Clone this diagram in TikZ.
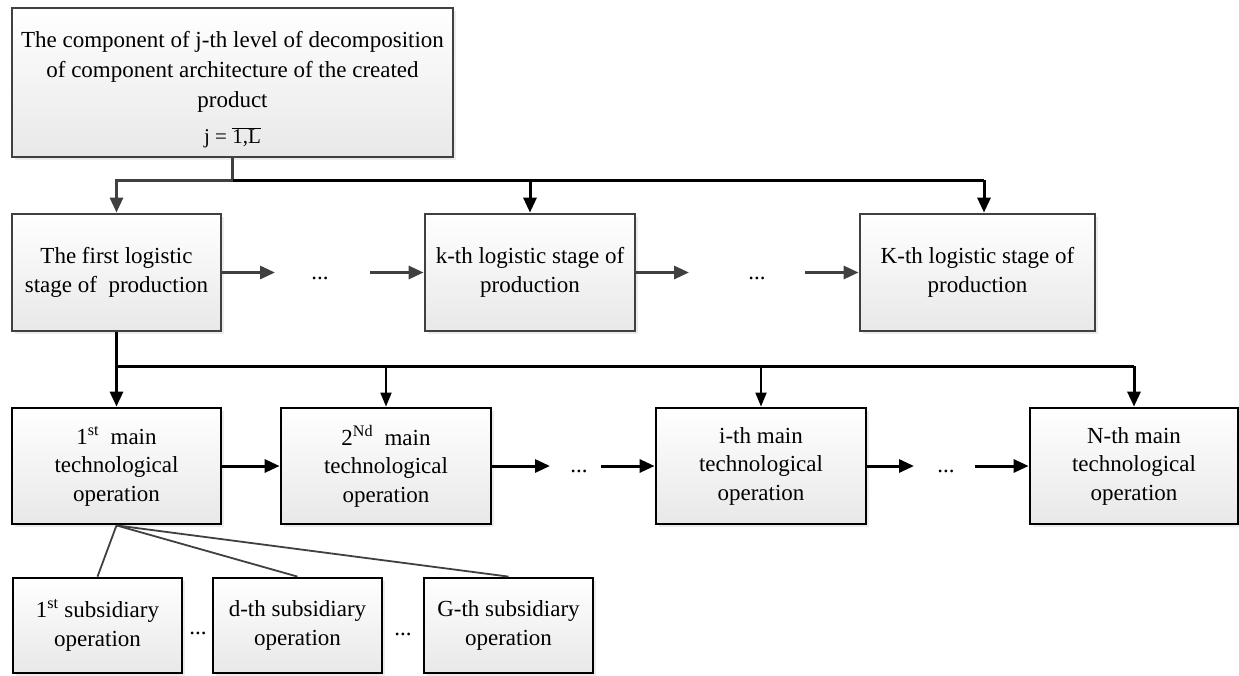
\documentclass[tikz,border=0pt]{standalone}
\usepackage{fontspec}
\setmainfont{Liberation Serif}
\usetikzlibrary{arrows.meta,shadows}
\definecolor{dg}{HTML}{404040}
\begin{document}
\begin{tikzpicture}[x=1pt,y=-1pt,
  box/.style={draw=#1, line width=2.8pt, top color=white, bottom color=black!9,
    drop shadow={shadow xshift=2.5pt,shadow yshift=-2.5pt,fill=black!15},
    align=center, inner sep=0pt, font=\fontsize{23}{28.5}\selectfont},
  box/.default=dg,
  dots/.style={inner sep=0pt, font=\fontsize{23}{28}\selectfont},
  tip/.style={-{Triangle[length=15pt,width=13pt]}},
  garr/.style={tip, draw=dg, line width=3pt},
  barr/.style={tip, draw=black, line width=3pt},
  tarr/.style={-{Triangle[length=14pt,width=11pt]}, draw=black, line width=1.8pt},
  gline/.style={draw=dg, line width=3pt},
  bline/.style={draw=black, line width=3pt},
  sline/.style={draw=dg, line width=1.8pt}
]
\useasboundingbox (0,0) rectangle (1239,675);

% top box
\node[box, minimum width=441pt, minimum height=149pt] (top) at (232.5,82.5)
  {\rule{0pt}{30pt}The component of j-th level of decomposition\\[1.5pt]
   of component architecture of the created\\[1.5pt]
   product\\[8pt]
   {\fontsize{21}{21}\selectfont j = $\overline{\mbox{1,L}}$}};

% logistic stages
\node[box, minimum width=209pt, minimum height=117pt] (first) at (116.5,272.5)
  {The first logistic\\ stage of \ production};
\node[box, minimum width=210pt, minimum height=117pt] (kth) at (530,272.5)
  {k-th logistic stage of\\ production};
\node[box, minimum width=235pt, minimum height=117pt] (Kth) at (977.5,272.5)
  {K-th logistic stage of\\ production};

% main operations
\node[box=black, minimum width=209pt, minimum height=116pt] (main1) at (116.5,466)
  {1\textsuperscript{st}\ \ main\\ technological\\ operation};
\node[box=black, minimum width=210pt, minimum height=116pt] (main2) at (386,466)
  {2\textsuperscript{Nd}\ \ main\\ technological\\ operation};
\node[box=black, minimum width=210pt, minimum height=116pt] (maini) at (761,466)
  {i-th main\\ technological\\ operation};
\node[box=black, minimum width=208pt, minimum height=116pt] (mainN) at (1134,466)
  {N-th main\\ technological\\ operation};

% subsidiary operations
\node[box=black, minimum width=169pt, minimum height=95pt] (sub1) at (97.5,625.5)
  {1\textsuperscript{st} subsidiary\\ operation};
\node[box=black, minimum width=169pt, minimum height=95pt] (subd) at (297.5,625.5)
  {d-th subsidiary\\ operation};
\node[box=black, minimum width=169pt, minimum height=95pt] (subG) at (508.5,625.5)
  {G-th subsidiary\\ operation};

% dots
\node[dots] (d1) at (320,278) {...};
\node[dots] (d2) at (757,278) {...};
\node[dots] (d3) at (579,471) {...};
\node[dots] (d4) at (946,471) {...};
\node[dots] (d5) at (198,633) {...};
\node[dots] (d6) at (403,634) {...};

% distribution from top box
\coordinate (j0) at (232.5,180);
\coordinate (jk) at (530,180);
\coordinate (jK) at (984,180);
\draw[gline] (top.south) -- (j0);
\draw[garr] (j0) -| (first.north);
\draw[bline] (j0) -- (jK);
\draw[barr] (jk) -- (kth.north);
\draw[barr] (jK) -- (jK |- Kth.north);

% row 2 arrows
\coordinate (a1) at (275,272.5);
\coordinate (a2) at (370,272.5);
\coordinate (a3) at (689,272.5);
\coordinate (a4) at (805,272.5);
\draw[garr] (first.east) -- (a1);
\draw[garr] (a2) -- (kth.west);
\draw[garr] (kth.east) -- (a3);
\draw[garr] (a4) -- (Kth.west);

% distribution to main operations
\coordinate (h0) at (116.5,366);
\coordinate (h2) at (386,366);
\coordinate (hi) at (761,366);
\coordinate (hN) at (1134,366);
\draw[bline] (first.south) -- (h0) -- (hN);
\draw[barr] (h0) -- (main1.north);
\draw[tarr] (h2) -- (main2.north);
\draw[tarr] (hi) -- (maini.north);
\draw[barr] (hN) -- (mainN.north);

% row 3 arrows
\coordinate (c1) at (550,466);
\coordinate (c2) at (601,466);
\coordinate (c3) at (914,466);
\coordinate (c4) at (975,466);
\draw[barr] (main1.east) -- (main2.west);
\draw[barr] (main2.east) -- (c1);
\draw[barr] (c2) -- (maini.west);
\draw[barr] (maini.east) -- (c3);
\draw[barr] (c4) -- (mainN.west);

% subsidiary lines
\draw[sline] (main1.south) -- (sub1.north);
\draw[sline] (main1.south) -- (subd.north);
\draw[sline] (main1.south) -- (subG.north);
\end{tikzpicture}
\end{document}
